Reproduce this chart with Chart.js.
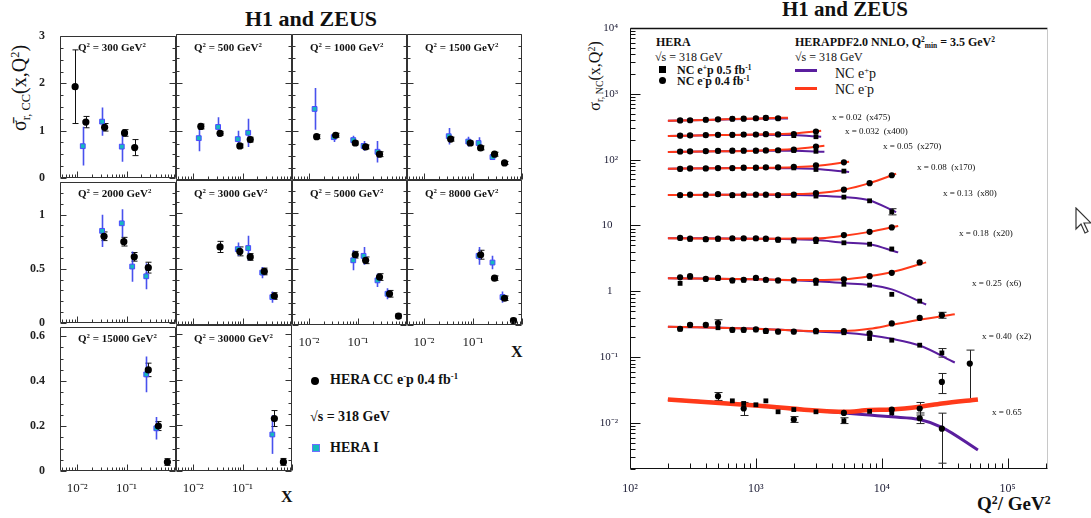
<!DOCTYPE html>
<html>
<head>
<meta charset="utf-8">
<script src="https://cdn.jsdelivr.net/npm/chart.js@4.4.1/dist/chart.umd.min.js"></script>
<style>
  html, body { margin: 0; padding: 0; background: #fff; }
  #page { position: relative; width: 1091px; height: 518px; overflow: hidden;
          font-family: 'Liberation Serif', 'Times New Roman', serif; color: #111; }
  canvas { position: absolute; }
  .t { position: absolute; white-space: nowrap; line-height: 1; }
  .b { font-weight: bold; }
  sup { font-size: 0.62em; vertical-align: 0.55em; line-height: 0; }
  sub { font-size: 0.62em; vertical-align: -0.3em; line-height: 0; }
  .rot { transform-origin: center center; transform: translate(-50%, -50%) rotate(-90deg); }
</style>
</head>
<body>
<div id="page">
  <div class="t b" style="left:245px;top:8px;font-size:22px;">H1 and ZEUS</div>
  <div class="t b" style="left:782px;top:-1px;font-size:21px;">H1 and ZEUS</div>

  <div class="t rot" style="left:19px;top:88px;font-size:20px;">σ̄<sub>r, CC</sub>(x,Q<sup>2</sup>)</div>
  <div class="t rot" style="left:595px;top:76px;font-size:16px;">σ<sub>r, NC</sub>(x,Q<sup>2</sup>)</div>

  <div class="t b" style="left:511px;top:344px;font-size:16px;">X</div>
  <div class="t b" style="left:281px;top:489px;font-size:16px;">X</div>
  <div class="t b" style="left:977px;top:494px;font-size:19px;">Q<sup>2</sup>/ GeV<sup>2</sup></div>

  <!-- left legend -->
  <div style="position:absolute;left:311px;top:377px;width:8px;height:8px;border-radius:50%;background:#000;"></div>
  <div class="t b" style="left:330px;top:373px;font-size:14px;">HERA CC e<sup>-</sup>p 0.4 fb<sup>-1</sup></div>
  <div class="t b" style="left:310px;top:410px;font-size:14px;">√s = 318 GeV</div>
  <div style="position:absolute;left:312px;top:444px;width:6px;height:6px;background:#17b8bf;border:1px solid #6f6fff;"></div>
  <div class="t b" style="left:330px;top:441px;font-size:14px;">HERA I</div>

  <!-- right legend -->
  <div class="t b" style="left:656px;top:36px;font-size:12px;">HERA</div>
  <div class="t" style="left:655px;top:51px;font-size:12px;">√s = 318 GeV</div>
  <div style="position:absolute;left:659px;top:66px;width:7px;height:7px;background:#000;"></div>
  <div class="t b" style="left:677px;top:64px;font-size:12px;">NC e<sup>+</sup>p 0.5 fb<sup>-1</sup></div>
  <div style="position:absolute;left:659px;top:77px;width:7px;height:7px;border-radius:50%;background:#000;"></div>
  <div class="t b" style="left:677px;top:75px;font-size:12px;">NC e<sup>-</sup>p 0.4 fb<sup>-1</sup></div>
  <div class="t b" style="left:795px;top:36px;font-size:12px;">HERAPDF2.0 NNLO, Q<sup>2</sup><sub>min</sub> = 3.5 GeV<sup>2</sup></div>
  <div class="t" style="left:795px;top:51px;font-size:12px;">√s = 318 GeV</div>
  <div style="position:absolute;left:795px;top:69px;width:22px;height:3px;background:#5a1e9e;"></div>
  <div class="t" style="left:835px;top:67px;font-size:14px;">NC e<sup>+</sup>p</div>
  <div style="position:absolute;left:795px;top:87px;width:22px;height:3px;background:#ff3a1a;"></div>
  <div class="t" style="left:835px;top:83px;font-size:14px;">NC e<sup>-</sup>p</div>

  <svg style="position:absolute;left:1075px;top:207px;" width="18" height="28" viewBox="0 0 18 28">
    <path d="M1,1 L1,22 L6,17 L10,26 L13,24.5 L9,16 L16,16 Z" fill="#fff" stroke="#333" stroke-width="1.2"/>
  </svg>
</div>
<script>
// ---------- left figure: CC e-p reduced cross sections ----------
const ccQ2 = [300, 500, 1000, 1500, 2000, 3000, 5000, 8000, 15000, 30000];
const ccX = [
  [0.0091, 0.015, 0.036, 0.091, 0.146],
  [0.0143, 0.035, 0.088, 0.143],
  [0.0143, 0.035, 0.088, 0.143, 0.275],
  [0.035, 0.088, 0.143, 0.275, 0.44],
  [0.035, 0.088, 0.143, 0.275],
  [0.035, 0.088, 0.143, 0.275, 0.44],
  [0.088, 0.143, 0.275, 0.44, 0.67],
  [0.143, 0.275, 0.44, 0.67],
  [0.275, 0.44, 0.67],
  [0.44, 0.67]
];
const ccY = [
  [1.93, 1.18, 1.07, 0.95, 0.64],
  [1.10, 0.96, 0.70, 0.83],
  [0.89, 0.92, 0.76, 0.68, 0.53],
  [0.84, 0.76, 0.66, 0.53, 0.35],
  [0.80, 0.75, 0.61, 0.51],
  [0.70, 0.66, 0.61, 0.48, 0.26],
  [0.63, 0.58, 0.43, 0.28, 0.08],
  [0.63, 0.42, 0.24, 0.04],
  [0.45, 0.20, 0.04],
  [0.23, 0.04]
];
const ccErr = [
  [0.78, 0.12, 0.08, 0.07, 0.17],
  [0.05, 0.04, 0.04, 0.05],
  [0.04, 0.04, 0.04, 0.04, 0.05],
  [0.04, 0.04, 0.04, 0.04, 0.03],
  [0.04, 0.04, 0.04, 0.05],
  [0.05, 0.04, 0.03, 0.03, 0.03],
  [0.03, 0.03, 0.03, 0.03, 0.02],
  [0.04, 0.02, 0.02, 0.02],
  [0.03, 0.02, 0.015],
  [0.035, 0.015]
];
// HERA I points
const h1X = [
  [0.013, 0.032, 0.08],
  [0.013, 0.032, 0.08, 0.13],
  [0.013, 0.032, 0.08, 0.13, 0.25],
  [0.032, 0.08, 0.13, 0.25],
  [0.032, 0.08, 0.13, 0.25],
  [0.08, 0.13, 0.25, 0.4],
  [0.08, 0.13, 0.25, 0.4],
  [0.13, 0.25, 0.4],
  [0.25, 0.4],
  [0.4]
];
const h1Y = [
  [0.67, 1.19, 0.66],
  [0.86, 1.09, 0.84, 0.97],
  [1.46, 0.88, 0.82, 0.70, 0.58],
  [0.90, 0.79, 0.76, 0.47],
  [0.85, 0.92, 0.52, 0.43],
  [0.68, 0.69, 0.47, 0.25],
  [0.58, 0.62, 0.40, 0.28],
  [0.62, 0.56, 0.25],
  [0.43, 0.19],
  [0.16]
];
const h1Err = [
  [0.41, 0.30, 0.32],
  [0.27, 0.20, 0.17, 0.29],
  [0.43, 0.10, 0.09, 0.10, 0.22],
  [0.17, 0.10, 0.12, 0.06],
  [0.15, 0.13, 0.14, 0.12],
  [0.06, 0.11, 0.05, 0.05],
  [0.09, 0.08, 0.06, 0.05],
  [0.08, 0.06, 0.05],
  [0.08, 0.05],
  [0.085]
];
const rowMax = [3, 1.3, 0.64];
const rowTicks = [[0, 1, 2, 3], [0, 0.5, 1], [0, 0.2, 0.4, 0.6]];
const rowTickLabels = [['0', '1', '2', '3'], ['0', '0.5', '1'], ['0', '0.2', '0.4', '0.6']];
const xTicks = [0.01, 0.1];
const xTickLabels = ['10⁻²', '10⁻¹'];

// ---------- right figure: NC reduced cross sections ----------
const ncBins = ['x = 0.02', 'x = 0.032', 'x = 0.05', 'x = 0.08', 'x = 0.13', 'x = 0.18', 'x = 0.25', 'x = 0.40', 'x = 0.65'];
const ncFactors = ['(x475)', '(x400)', '(x270)', '(x170)', '(x80)', '(x20)', '(x6)', '(x2)', ''];
const ncQ2 = [250, 300, 400, 500, 650, 800, 1000, 1200, 1500, 2000, 3000, 5000, 8000, 12000, 20000, 30000, 50000];
const n = null;
const ncEplus = [
  [392, 395, 402, 408, 416, 418, 424, 432, 424, n, n, n, n, n, n, n, n],
  [230, 232, 235, 237, 237, 240, 240, 243, 240, 232, 223, n, n, n, n, n, n],
  [132, 133, 134, 135, 136, 136, 136, 137, 138, 138, 134, n, n, n, n, n, n],
  [72, 73, 73, 74, 74, 75, 75, 76, 76, 75, 71, 67, n, n, n, n, n],
  [28.5, 29, 29, 29.5, 28.5, 29, 29, 29, 28.5, 29, 28, 27, 23.7, 16.2, n, n, n],
  [6.4, 6.2, 6.1, 6.2, 6.3, 6.3, 6.3, 6.2, 6.0, 5.8, 5.7, 5.46, 5.2, 4.4, n, n, n],
  [1.32, 1.64, 1.53, 1.57, 1.44, 1.48, 1.57, 1.48, 1.44, 1.44, 1.32, 1.28, 1.24, 0.90, 0.71, n, n],
  [0.267, 0.306, 0.306, 0.28, 0.257, 0.257, 0.26, 0.245, 0.242, 0.242, 0.242, 0.235, 0.192, 0.181, 0.152, 0.116, n],
  [n, n, n, n, 0.0217, 0.0198, 0.0189, 0.0217, 0.0148, 0.016, 0.0148, 0.0108, 0.015, 0.0142, n, n, n]
];
const ncEminus = [
  [394, 397, 404, 410, 418, 420, 426, 430, 426, n, n, n, n, n, n, n, n],
  [232, 234, 236, 238, 238, 241, 241, 244, 242, 245, 268, n, n, n, n, n, n],
  [133, 134, 135, 136, 137, 137, 137, 138, 139, 142, 158, n, n, n, n, n, n],
  [72.5, 73.5, 73.5, 74.5, 74.5, 75.5, 75.5, 76.5, 76.5, 78, 82, 91, n, n, n, n, n],
  [29, 29.5, 29.5, 30, 29, 29.5, 29.5, 29.5, 29, 29.5, 31, 35, 44, 58, n, n, n],
  [6.5, 6.3, 6.2, 6.3, 6.4, 6.4, 6.4, 6.3, 6.1, 6.0, 6.1, 7.15, 8.0, 9.35, n, n, n],
  [1.63, 1.70, 1.55, 1.60, 1.47, 1.50, 1.60, 1.50, 1.47, 1.47, 1.45, 1.52, 1.70, 1.91, 2.75, n, n],
  [0.27, 0.31, 0.31, 0.33, 0.26, 0.26, 0.265, 0.25, 0.245, 0.245, 0.25, 0.248, 0.229, 0.325, 0.395, 0.434, n],
  [n, n, n, 0.0255, n, 0.0166, n, n, n, 0.0113, n, 0.0142, n, 0.016, 0.0166, 0.042, 0.080]
];
const extraQ2 = [20000, 30000];
const extraY = [0.0118, 0.0082];
// HERAPDF2.0 curves
const fitQ2 = [
  [200, 400, 800, 1200, 1800],
  [200, 500, 1000, 2000, 3300],
  [200, 500, 1000, 2000, 3500],
  [200, 500, 1000, 2000, 3000, 5500],
  [200, 500, 1000, 2000, 3000, 5000, 8000, 13000],
  [200, 1000, 3000, 5000, 8000, 13500],
  [200, 1000, 3000, 5000, 8000, 12000, 22500],
  [200, 1000, 3000, 5000, 8000, 12000, 20000, 38000],
  [200, 1000, 5000, 8000, 12000, 20000, 30000, 58000]
];
const fitEminus = [
  [390, 402, 418, 426, 434],
  [229, 236, 241, 250, 275],
  [131, 134, 137, 145, 162],
  [73, 74, 75, 77, 80, 93],
  [29, 29.3, 29.5, 30, 31, 35, 44, 61],
  [6.4, 6.3, 6.35, 7.0, 8.0, 9.8],
  [1.58, 1.52, 1.48, 1.52, 1.70, 1.95, 2.75],
  [0.29, 0.27, 0.25, 0.25, 0.27, 0.31, 0.37, 0.45],
  [0.0228, 0.0185, 0.0148, 0.0157, 0.016, 0.0176, 0.0198, 0.0228]
];
const fitEplus = [
  [390, 401, 415, 421, 422],
  [229, 236, 240, 236, 223],
  [131, 134, 136, 136, 132],
  [73, 74, 75, 74, 72, 65],
  [29, 29.2, 29.3, 29, 28.5, 27, 24, 16],
  [6.4, 6.3, 6.0, 5.5, 5.2, 3.9],
  [1.58, 1.52, 1.42, 1.33, 1.25, 1.07, 0.63],
  [0.29, 0.27, 0.245, 0.235, 0.215, 0.19, 0.15, 0.083],
  [0.0228, 0.0185, 0.0142, 0.0132, 0.0124, 0.0113, 0.0086, 0.0039]
];
// error bars drawn on the NC plot
const errQ2 = [500, 800, 2000, 5000, 12000, 20000, 20000, 30000, 30000, 50000, 30000, 30000, 12000, 500];
const errY = [0.0255, 0.0166, 0.0113, 0.0108, 0.0142, 0.0166, 0.0118, 0.0082, 0.042, 0.080, 0.434, 0.116, 16.2, 0.33];
const errLow = [0.022, 0.013, 0.0102, 0.0098, 0.0122, 0.0132, 0.0098, 0.00245, 0.028, 0.022, 0.39, 0.10, 14.5, 0.28];
const errHigh = [0.029, 0.0205, 0.0125, 0.012, 0.0165, 0.0205, 0.0142, 0.0141, 0.0565, 0.128, 0.48, 0.135, 18, 0.37];
const ncYTicks = [0.01, 0.1, 1, 10, 100, 1000, 10000];
const ncYLabels = ['10⁻²', '10⁻¹', '1  ', '10  ', '10²', '10³', '10⁴'];
const ncXTicks = [100, 1000, 10000, 100000];
const ncXLabels = ['10²', '10³', '10⁴', '10⁵'];

// ---------- plugins ----------
function logMarks(min, max) {
  const out = [];
  for (let d = Math.floor(Math.log10(min)); d <= Math.ceil(Math.log10(max)); d++) {
    for (let k = 1; k <= 9; k++) {
      const v = k * Math.pow(10, d);
      if (v >= min * 0.9999 && v <= max * 1.0001) out.push([v, k === 1]);
    }
  }
  return out;
}
function linMarks(scale, step) {
  const out = [];
  const majors = scale.ticks.map(t => t.value);
  for (let k = 0; scale.min + k * step <= scale.max + 1e-9; k++) {
    const v = scale.min + k * step;
    out.push([v, majors.some(m => Math.abs(m - v) < 1e-6)]);
  }
  return out;
}

const frameTicks = {
  id: 'frameTicks',
  afterDraw(chart, args, o) {
    const {ctx, chartArea: a} = chart;
    const sx = chart.scales.x, sy = chart.scales.y;
    const L = Math.round(a.left) + 0.5, R = Math.round(a.right) - 0.5;
    const T = Math.round(a.top) + 0.5, B = Math.round(a.bottom) - 0.5;
    ctx.save();
    const side = (col, w, x1, y1, x2, y2) => {
      if (!col) return;
      ctx.strokeStyle = col; ctx.lineWidth = w;
      ctx.beginPath(); ctx.moveTo(x1, y1); ctx.lineTo(x2, y2); ctx.stroke();
    };
    side(o.frame.t, o.topWidth || 1, L, T, R, T);
    side(o.frame.r, 1, R, T, R, B);
    side(o.frame.l, 1, L, T, L, B);
    side(o.frame.b, 1, L, B, R, B);

    ctx.strokeStyle = o.tickColor;
    ctx.lineWidth = 1;
    ctx.beginPath();
    logMarks(sx.min, sx.max).forEach(([v, major]) => {
      const p = Math.round(sx.getPixelForValue(v)) + 0.5;
      ctx.moveTo(p, B); ctx.lineTo(p, B - (major ? o.xMajor : o.xMinor));
    });
    const ym = sy.type === 'logarithmic' ? logMarks(sy.min, sy.max) : linMarks(sy, o.yStep);
    ym.forEach(([v, major]) => {
      const p = Math.round(sy.getPixelForValue(v)) + 0.5;
      const len = major ? o.yMajor : o.yMinor;
      ctx.moveTo(L, p); ctx.lineTo(L + len, p);
      if (o.yRight) { ctx.moveTo(R, p); ctx.lineTo(R - len, p); }
    });
    ctx.stroke();
    ctx.restore();
  }
};

const errBars = {
  id: 'errBars',
  beforeDatasetsDraw(chart) {
    const {ctx, scales: {x, y}} = chart;
    ctx.save();
    chart.data.datasets.forEach(ds => {
      if (!ds.errLow) return;
      ctx.strokeStyle = ds.errColor;
      ctx.lineWidth = ds.errWidth || 1;
      ctx.beginPath();
      ds.data.forEach((p, k) => {
        const px = Math.round(x.getPixelForValue(p.x)) + 0.5;
        const y1 = y.getPixelForValue(ds.errLow[k]);
        const y2 = y.getPixelForValue(ds.errHigh[k]);
        ctx.moveTo(px, y1); ctx.lineTo(px, y2);
        if (ds.errCap) {
          ctx.moveTo(px - ds.errCap, y1); ctx.lineTo(px + ds.errCap, y1);
          ctx.moveTo(px - ds.errCap, y2); ctx.lineTo(px + ds.errCap, y2);
        }
      });
      ctx.stroke();
    });
    ctx.restore();
  }
};

Chart.defaults.font.family = "'Liberation Serif', 'Times New Roman', serif";
Chart.defaults.color = '#111';
const page = document.getElementById('page');

function addCanvas(left, top, w, h) {
  const cv = document.createElement('canvas');
  cv.width = w; cv.height = h;
  cv.style.left = left + 'px'; cv.style.top = top + 'px';
  page.appendChild(cv);
  return cv;
}
function addText(html, left, top, size, cls) {
  const d = document.createElement('div');
  d.className = 't' + (cls ? ' ' + cls : '');
  d.style.left = left + 'px'; d.style.top = top + 'px'; d.style.fontSize = size + 'px';
  d.innerHTML = html;
  page.appendChild(d);
}

// ---------- left grid of small panels ----------
const colX = [60, 176, 292, 407, 522];
const rowY = [34, 180, 325, 471];
const yStepMinor = [0.25, 0.1, 0.05];

ccQ2.forEach((q, i) => {
  const r = Math.floor(i / 4), c = i % 4;
  const showX = (r === 1 && c >= 2) || r === 2;
  const showY = c === 0;
  const w = colX[c + 1] - colX[c], h = rowY[r + 1] - rowY[r];
  const m = 12, yW = 48, xH = 24;
  const cv = addCanvas(colX[c] - (showY ? yW : m), rowY[r] - m,
                       w + (showY ? yW : m) + m, h + m + (showX ? xH : m));
  const cc = ccX[i].map((x, k) => ({x, y: ccY[i][k]}));
  const h1 = h1X[i].map((x, k) => ({x, y: h1Y[i][k]}));
  new Chart(cv, {
    type: 'scatter',
    data: {
      datasets: [
        { label: 'HERA CC e-p 0.4 fb-1', data: cc, pointStyle: 'circle', pointRadius: 3.6,
          backgroundColor: '#000', borderColor: '#000', borderWidth: 0,
          errLow: cc.map((p, k) => p.y - ccErr[i][k]), errHigh: cc.map((p, k) => p.y + ccErr[i][k]),
          errColor: '#111', errCap: 3 },
        { label: 'HERA I', data: h1, pointStyle: 'rect', pointRadius: 3.4,
          backgroundColor: '#17b8bf', borderColor: '#4a4aff', borderWidth: 1,
          errLow: h1.map((p, k) => p.y - h1Err[i][k]), errHigh: h1.map((p, k) => p.y + h1Err[i][k]),
          errColor: 'rgba(40,50,235,0.85)', errWidth: 1.6 }
      ]
    },
    options: {
      responsive: false, animation: false,
      layout: { padding: { left: showY ? 0 : m, right: m, top: m, bottom: showX ? 0 : m } },
      plugins: {
        legend: { display: false }, tooltip: { enabled: false },
        frameTicks: { frame: {t: '#333', r: '#333', l: '#333', b: '#333'}, tickColor: '#333',
                      xMajor: 6, xMinor: 3, yMajor: 6, yMinor: 3, yRight: true, yStep: yStepMinor[r] }
      },
      scales: {
        x: {
          type: 'logarithmic', min: 0.0045, max: 1, display: showX,
          afterFit: s => { if (showX) s.height = xH; },
          afterBuildTicks: s => { s.ticks = xTicks.map(v => ({value: v})); },
          grid: { display: false }, border: { display: false },
          ticks: { autoSkip: false, maxRotation: 0, padding: 2, color: '#222',
                   font: { size: 13 }, callback: (v, k) => xTickLabels[k] }
        },
        y: {
          type: 'linear', min: 0, max: rowMax[r], display: showY,
          afterFit: s => { if (showY) s.width = yW; },
          afterBuildTicks: s => { s.ticks = rowTicks[r].map(v => ({value: v})); },
          grid: { display: false }, border: { display: false },
          ticks: { autoSkip: false, padding: 7, color: '#222', font: { size: 12, weight: 'bold' },
                   callback: (v, k) => rowTickLabels[r][k] }
        }
      }
    },
    plugins: [errBars, frameTicks]
  });
  addText('Q<sup>2</sup> = ' + q + ' GeV<sup>2</sup>', colX[c] + 18, rowY[r] + 8, 11, 'b');
});

// ---------- right NC plot ----------
const ncSets = [];
ncBins.forEach((b, i) => {
  const sq = [], ci = [];
  ncQ2.forEach((q, k) => {
    if (ncEplus[i][k] != null) sq.push({x: q, y: ncEplus[i][k]});
    if (ncEminus[i][k] != null) ci.push({x: q, y: ncEminus[i][k]});
  });
  ncSets.push({ label: 'NC e+p ' + b, data: sq, pointStyle: 'rect', pointRadius: 3.4,
                backgroundColor: '#000', borderColor: '#000', borderWidth: 0, order: 0 });
  ncSets.push({ label: 'NC e-p ' + b, data: ci, pointStyle: 'circle', pointRadius: 3.1,
                backgroundColor: '#000', borderColor: '#000', borderWidth: 0, order: 0 });
  ncSets.push({ label: 'fit e-p ' + b, data: fitQ2[i].map((q, k) => ({x: q, y: fitEminus[i][k]})),
                showLine: true, pointRadius: 0, borderColor: '#ff3a1a', borderWidth: i === 8 ? 4.5 : 2,
                cubicInterpolationMode: 'monotone', order: 1 });
  ncSets.push({ label: 'fit e+p ' + b, data: fitQ2[i].map((q, k) => ({x: q, y: fitEplus[i][k]})),
                showLine: true, pointRadius: 0, borderColor: '#5a1e9e', borderWidth: i === 8 ? 3 : 2,
                cubicInterpolationMode: 'monotone', order: 2 });
});
ncSets.push({ label: 'extra', data: extraQ2.map((q, k) => ({x: q, y: extraY[k]})), pointStyle: 'circle',
              pointRadius: 3.1, backgroundColor: '#000', borderWidth: 0, order: 0 });
ncSets.push({ label: 'errors', data: errQ2.map((q, k) => ({x: q, y: errY[k]})), pointRadius: 0,
              errLow: errLow, errHigh: errHigh, errColor: '#222', errCap: 4, order: 3 });

const rc = addCanvas(560, 0, 531, 518);
new Chart(rc, {
  type: 'scatter',
  data: { datasets: ncSets },
  options: {
    responsive: false, animation: false,
    layout: { padding: { left: 0, top: 28, right: 43, bottom: 0 } },
    plugins: {
      legend: { display: false }, tooltip: { enabled: false },
      frameTicks: { frame: {t: '#111', r: '#c8c8c8', l: '#111', b: '#111'}, topWidth: 1.5, tickColor: '#111',
                    xMajor: 10, xMinor: 5, yMajor: 10, yMinor: 5, yRight: false }
    },
    scales: {
      x: {
        type: 'logarithmic', min: 100, max: 209000,
        afterFit: s => { s.height = 49; },
        afterBuildTicks: s => { s.ticks = ncXTicks.map(v => ({value: v})); },
        grid: { display: false }, border: { display: false },
        ticks: { autoSkip: false, maxRotation: 0, padding: 5, color: '#1a1a33', font: { size: 12 },
                 callback: (v, k) => ncXLabels[k] }
      },
      y: {
        type: 'logarithmic', min: 0.002, max: 10000,
        afterFit: s => { s.width = 70; },
        afterBuildTicks: s => { s.ticks = ncYTicks.map(v => ({value: v})); },
        grid: { display: false }, border: { display: false },
        ticks: { autoSkip: false, padding: 4, color: '#1a1a33', font: { size: 11 },
                 callback: (v, k) => ncYLabels[k] }
      }
    }
  },
  plugins: [errBars, frameTicks]
});

const binLabelPos = [[832, 113], [845, 127], [883, 142], [917, 163], [943, 189], [959, 229], [972, 279], [982, 332], [992, 408]];
ncBins.forEach((b, i) => {
  addText(b + (ncFactors[i] ? '&nbsp;&nbsp;' + ncFactors[i] : ''), binLabelPos[i][0], binLabelPos[i][1], 9);
});
</script>
</body>
</html>
